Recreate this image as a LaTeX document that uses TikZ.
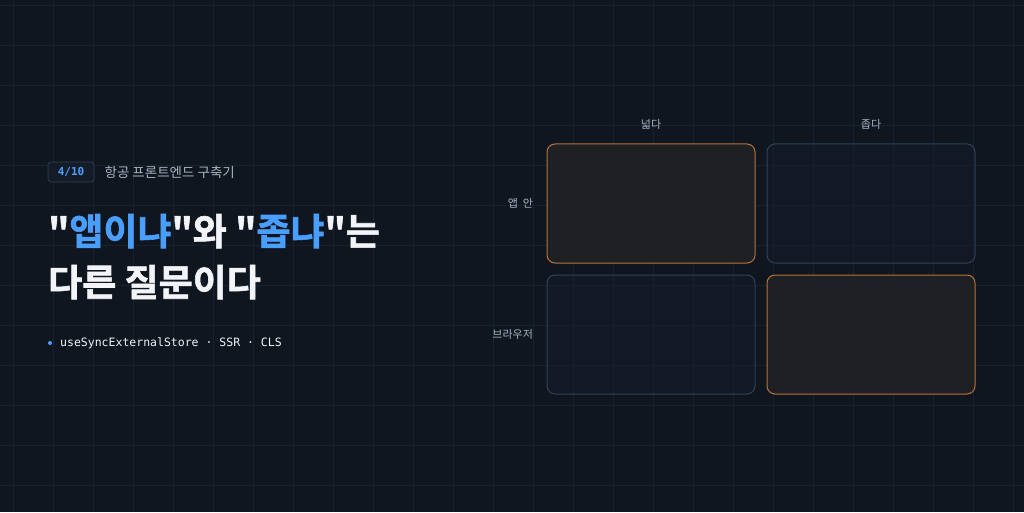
\documentclass[tikz,border=0pt]{standalone}
\usepackage{fontspec}
\setmainfont{Noto Sans CJK KR}
\newfontfamily\krbold{Noto Sans CJK KR}[BoldFont={Noto Sans CJK KR Bold}, BoldFeatures={FakeBold=1.6}]
\setmonofont{DejaVu Sans Mono}
\usetikzlibrary{positioning}
\definecolor{bgdark}{HTML}{0F1620}
\definecolor{gridline}{HTML}{18222F}
\definecolor{accent}{HTML}{4A9EFF}
\definecolor{textmain}{HTML}{F2F4F7}
\definecolor{textsub}{HTML}{A9B4C2}
\definecolor{warmedge}{HTML}{B8733A}
\definecolor{cooledge}{HTML}{2E4158}
\definecolor{warmfill}{HTML}{1F2024}
\definecolor{coolfill}{HTML}{141C27}
\tikzset{
  cell/.style={rounded corners=8pt, line width=1pt, minimum width=208pt, minimum height=119pt, inner sep=0pt},
  hot/.style={cell, draw=warmedge, fill=warmfill},
  cold/.style={cell, draw=cooledge, fill=coolfill, fill opacity=0.6},
  axis/.style={text=textsub, font=\fontsize{11}{13}\selectfont},
}
\begin{document}
\begin{tikzpicture}[x=1pt,y=1pt]
  %%%%% BACKGROUND %%%%%
  \fill[bgdark] (0,0) rectangle (1024,512);
  \useasboundingbox (0,0) rectangle (1024,512);
  \foreach \gx in {13,53,...,1013}
    \draw[gridline, line width=0.6pt] (\gx,0) -- (\gx,512);
  \foreach \gy in {27,67,...,507}
    \draw[gridline, line width=0.6pt] (0,\gy) -- (1024,\gy);

  %%%%% LEFT TEXT %%%%%
  \node[draw=cooledge, fill=coolfill, rounded corners=3pt, line width=0.8pt,
        minimum width=46pt, minimum height=20pt, inner sep=0pt,
        text=accent, font=\ttfamily\bfseries\fontsize{11}{13}\selectfont]
        (badge) at (71,340) {4/10};
  \node[right=10pt of badge, inner sep=0pt, text=textsub,
        font=\fontsize{13.5}{16}\selectfont] (series) {항공 프론트엔드 구축기};
  \node[anchor=base west, inner sep=0pt, text=textmain,
        font=\krbold\bfseries\fontsize{37}{44}\selectfont] (title1) at (48,267)
        {"\textcolor{accent}{앱이냐}"와 "\textcolor{accent}{좁냐}"는};
  \node[anchor=base west, inner sep=0pt, text=textmain,
        font=\krbold\bfseries\fontsize{37}{44}\selectfont] (title2) at (48,216)
        {다른 질문이다};
  \fill[accent] (50,169) circle (2pt);
  \node[anchor=west, inner sep=0pt, text=textmain,
        font=\ttfamily\fontsize{11.5}{14}\selectfont] (tags) at (60,169)
        {useSyncExternalStore · SSR · CLS};

  %%%%% MATRIX %%%%%
  \node[hot]  (appwide)  at (651,308.5) {};
  \node[cold] (appnarrow) at (871,308.5) {};
  \node[cold] (webwide)  at (651,177.5) {};
  \node[hot]  (webnarrow) at (871,177.5) {};
  \node[axis, above=11pt of appwide]  (colwide) {넓다};
  \node[axis, above=11pt of appnarrow] (colnarrow) {좁다};
  \node[axis, left=10pt of appwide]  (rowapp) {앱\ \ 안};
  \node[axis, left=10pt of webwide]  (rowweb) {브라우저};
\end{tikzpicture}
\end{document}
